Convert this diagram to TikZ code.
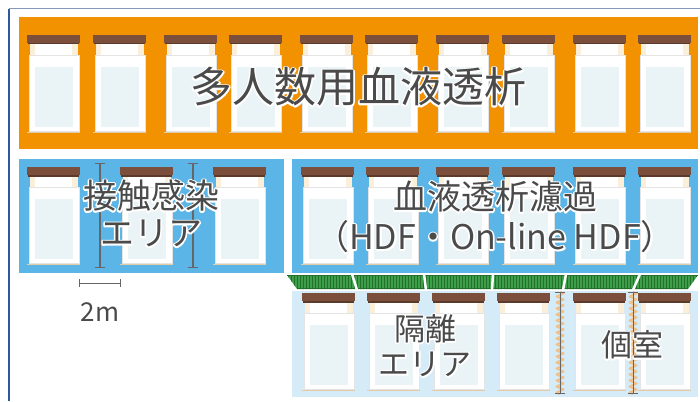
\documentclass[tikz,border=0pt]{standalone}
\usepackage{fontspec}
\setmainfont{Noto Sans CJK JP}
\usetikzlibrary{arrows.meta,patterns,decorations.pathmorphing}

\definecolor{bandorange}{HTML}{F39200}
\definecolor{roomblue}{HTML}{5BB5E6}
\definecolor{isoblue}{HTML}{D5EBF8}
\definecolor{capbrown}{HTML}{7B4F3B}
\definecolor{capshade}{HTML}{5C3A2B}
\definecolor{pillow}{HTML}{FCEFD9}
\definecolor{sheet}{HTML}{EAF3F6}
\definecolor{bedbase}{HTML}{E3CBA5}
\definecolor{bededge}{HTML}{E4E4E4}
\definecolor{railgreen}{HTML}{3E9E4A}
\definecolor{raildark}{HTML}{23702D}
\definecolor{curtain}{HTML}{F0C088}
\definecolor{dimgray}{HTML}{666666}
\definecolor{ink}{HTML}{4A4A4A}
\definecolor{frametop}{HTML}{8398BB}
\definecolor{frameleft}{HTML}{2D5A9E}

\tikzset{
  bed/.pic={
    \fill[capbrown] (0,0) rectangle (53,8);
    \fill[capshade] (1,8) rectangle (52,9.5);
    \fill[white] (3,9.5) rectangle (51,21);
    \fill[pillow] (3,9.5) rectangle (8,21);
    \fill[pillow] (45,9.5) rectangle (51,21);
    \filldraw[fill=white,draw=bededge,line width=.6] (2,20) rectangle (52,96.5);
    \fill[sheet] (8,32) rectangle (46,92);
    \fill[bedbase] (0,96.5) rectangle (53,98);
  },
  roomtext/.style={text=ink,inner sep=0,align=center},
  dimline/.style={draw=dimgray,line width=1.4,arrows={Bar[width=10pt]-Bar[width=10pt]}},
}

% white stroked copy under the dark letters
\newcommand\rimmed[1]{\leavevmode
  \rlap{\color{white}\special{pdf:code q 1 Tr 3 w 1 j 1 J}#1\special{pdf:code Q}}#1}

\begin{document}
\begin{tikzpicture}[x=1pt,y=-1pt]
\useasboundingbox (0,0) rectangle (700,401);

\draw[frameleft,line width=1.5] (9,401) -- (9,9);
\draw[frametop,line width=1] (9,9) -- (700,9);

\fill[bandorange] (19,17) rectangle (698,149);
\fill[roomblue] (19,159) rectangle (284,273);
\fill[roomblue] (292,159) rectangle (698,273);
\fill[isoblue] (292,291) rectangle (698,397);

\foreach \x in {27,93,164,229,300,365,436,502,573,638}
  \pic at (\x,35) {bed};
\foreach \x in {27,120,213}
  \pic at (\x,167) {bed};
\foreach \x in {301,366,436,502,573,638}
  \pic at (\x,167) {bed};
\foreach \x in {302,367,432,497,573,638}
  \pic at (\x,293) {bed};

\fill[railgreen] (287,275) -- (698,275) -- (688,289) -- (297,289) -- cycle;
\fill[pattern=vertical lines,pattern color=raildark] (287,275) -- (698,275) -- (688,289) -- (297,289) -- cycle;
\draw[raildark,line width=.8] (287,275.4) -- (698,275.4);
\draw[raildark,line width=.8] (297,288.6) -- (688,288.6);
\foreach \t/\b in {352/357,424/426,493/492,566/563,640/633}
  \draw[white,line width=2.5] (\t,274) -- (\b,290);

\coordinate (pitchA-top) at (100,163);
\coordinate (pitchA-bot) at (100,268);
\coordinate (pitchB-top) at (193,163);
\coordinate (pitchB-bot) at (193,268);
\coordinate (span-l) at (79,283);
\coordinate (span-r) at (121,283);
\draw[dimline] (pitchA-top) -- (pitchA-bot);
\draw[dimline] (pitchB-top) -- (pitchB-bot);
\draw[dimline,line width=1,arrows={Bar[width=8pt]-Bar[width=8pt]}] (span-l) -- (span-r);
\node[roomtext,font=\fontsize{26}{28}\selectfont] (span) at (100,312) {2m};

\foreach \cx [count=\k] in {560,633} {
  \coordinate (curtain\k-top) at (\cx,292);
  \coordinate (curtain\k-bot) at (\cx,394);
  \draw[curtain,line width=2,line join=round,decorate,
        decoration={zigzag,segment length=6,amplitude=3.5}]
    (curtain\k-top) -- (curtain\k-bot);
  \draw[dimline,line width=.8] (curtain\k-top) -- (curtain\k-bot);
}

\node[roomtext,font=\fontsize{42}{46}\selectfont] (multi) at (358,87)
  {\rimmed{多人数用血液透析}};
\node[roomtext,font=\fontsize{34}{37}\selectfont] (contact) at (151,213.5)
  {\rimmed{接触感染}\\\rimmed{エリア}};
\node[roomtext,font=\fontsize{34}{40}\selectfont] (hdf) at (495,217)
  {\rimmed{血液透析濾過}\\\rimmed{（HDF・On-line HDF）}};
\node[roomtext,font=\fontsize{31}{35}\selectfont] (isolation) at (425,345.5)
  {\rimmed{隔離}\\\rimmed{エリア}};
\node[roomtext,font=\fontsize{31}{35}\selectfont] (private) at (632,345)
  {\rimmed{個室}};
\end{tikzpicture}
\end{document}
